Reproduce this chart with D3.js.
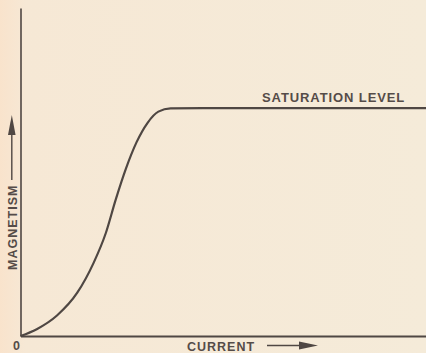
<!DOCTYPE html>
<html>
<head>
<meta charset="utf-8">
<script src="https://cdn.jsdelivr.net/npm/d3@7"></script>
<style>
  html, body { margin: 0; padding: 0; background: #f5ead7; }
  svg { display: block; }
  text { font-family: "Liberation Sans", Arial, sans-serif; font-weight: bold; fill: #554c48; }
</style>
</head>
<body>
<svg id="chart" width="426" height="353"></svg>
<script>
// Magnetisation curve: magnetism rises with current, then levels off at saturation
const current   = [0, 4, 9, 14, 18, 21, 23.5, 26, 28.6, 31.3, 34, 37, 45, 100];
const magnetism = [0, 3, 9, 19, 32, 45, 60, 73.5, 85, 93.5, 98.5, 99.9, 100, 100];
const saturation = 100;
const xTicks = [0];
const xTitle = "CURRENT";
const yTitle = "MAGNETISM";
const satLabel = "SATURATION LEVEL";

const svg = d3.select("#chart");
const ink = "#4f4743";

// soft warm tint along the left edge of the paper
const defs = svg.append("defs");
const grad = defs.append("linearGradient").attr("id", "paper").attr("x1", 0).attr("x2", 1);
grad.append("stop").attr("offset", "0").attr("stop-color", "#f9e3cc");
grad.append("stop").attr("offset", "0.06").attr("stop-color", "#f6e8d5");
grad.append("stop").attr("offset", "1").attr("stop-color", "#f5ebd9");
svg.append("rect").attr("width", 426).attr("height", 353).attr("fill", "url(#paper)");

const x = d3.scaleLinear().domain([0, 100]).range([20.5, 426]);
const y = d3.scaleLinear().domain([0, 144]).range([336, 8]);

// axes: plain lines with no ticks, only the origin label
const xAxis = svg.append("g")
  .attr("transform", `translate(0,${y(0)})`)
  .call(d3.axisBottom(x).tickValues(xTicks).tickSize(0).tickSizeOuter(0).tickPadding(8).tickFormat(d3.format("d")));
xAxis.select(".domain").attr("stroke", ink).attr("stroke-width", 1.8);
xAxis.selectAll(".tick text")
  .attr("dx", -4.5).attr("dy", "0.5em")
  .style("font-size", "12.5px").style("font-family", "Liberation Sans, Arial, sans-serif")
  .style("font-weight", "bold").attr("fill", "#554c48");

const yAxis = svg.append("g")
  .attr("transform", `translate(${x(0)},0)`)
  .call(d3.axisLeft(y).tickValues([]).tickSize(0).tickSizeOuter(0));
yAxis.select(".domain").attr("stroke", ink).attr("stroke-width", 1.6);

// the curve
const line = d3.line()
  .x((d, i) => x(current[i]))
  .y((d, i) => y(magnetism[i]))
  .curve(d3.curveMonotoneX);
svg.append("path")
  .datum(current)
  .attr("d", line)
  .attr("fill", "none")
  .attr("stroke", ink)
  .attr("stroke-width", 2.2)
  .attr("stroke-linejoin", "round");

// saturation label above the flat part
svg.append("text")
  .attr("x", 262).attr("y", y(saturation) - 6.5)
  .style("font-size", "13px").style("letter-spacing", "0.9px")
  .text(satLabel);

// x title with arrow
svg.append("text")
  .attr("x", 187).attr("y", 351)
  .style("font-size", "12.5px").style("letter-spacing", "1px")
  .text(xTitle);
svg.append("line")
  .attr("x1", 267).attr("x2", 304).attr("y1", 345.5).attr("y2", 345.5)
  .attr("stroke", ink).attr("stroke-width", 1.4);
svg.append("path")
  .attr("d", "M299,341.5 L318,345.5 L299,349.5 Z")
  .attr("fill", ink);

// y title with arrow, rotated
svg.append("text")
  .attr("transform", "translate(16.5,270) rotate(-90)")
  .style("font-size", "12.5px").style("letter-spacing", "1px")
  .text(yTitle);
svg.append("line")
  .attr("x1", 11.8).attr("x2", 11.8).attr("y1", 180).attr("y2", 130)
  .attr("stroke", ink).attr("stroke-width", 1.4);
svg.append("path")
  .attr("d", "M8,135 L11.8,115 L15.6,135 Z")
  .attr("fill", ink);
</script>
</body>
</html>
